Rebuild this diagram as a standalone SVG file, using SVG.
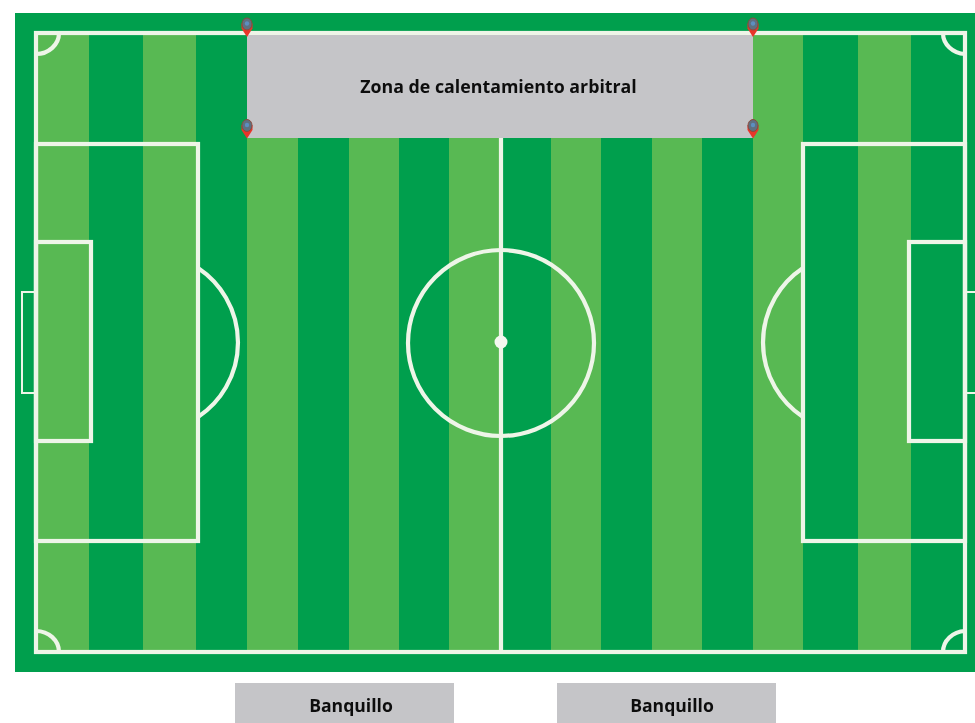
<svg xmlns="http://www.w3.org/2000/svg" width="975" height="723" viewBox="0 0 975 723">
<style>
.l{fill:#59b952}
.d{fill:#009f4d}
.w{fill:none;stroke:#eef5e8;stroke-width:4.2}
.t{fill:none;stroke:#eef5e8;stroke-width:2}
.g{fill:#c5c5c8}
.x{font-family:"Open Sans","Noto Sans",sans-serif;font-weight:700;fill:#111;text-anchor:middle}
.pin{fill:#e8352a}
.pc{fill:#5f6f80;stroke:#8a4a3c;stroke-width:1}
</style>
<defs>
<filter id="soft" filterUnits="userSpaceOnUse" x="0" y="0" width="975" height="723"><feGaussianBlur stdDeviation="0.7"/></filter>
<filter id="softer" filterUnits="userSpaceOnUse" x="0" y="0" width="975" height="723"><feGaussianBlur stdDeviation="0.3"/></filter>
<g id="marker"><path class="pin" d="M-5.5 -5L5.5 -5L5.5 0L0 8.5L-5.5 0Z"/><ellipse class="pc" cx="0" cy="-4.5" rx="5" ry="6"/><circle cx="0" cy="-5" r="2.2" fill="#5b8fc0"/></g>
</defs>
<rect width="975" height="723" fill="#fff"/>
<g id="field" filter="url(#soft)">
<rect class="d" x="15" y="13" width="965" height="659"/>
<rect class="l" x="36" y="33" width="53" height="619"/>
<rect class="l" x="143" y="33" width="53" height="619"/>
<rect class="l" x="247" y="33" width="51" height="619"/>
<rect class="l" x="349" y="33" width="50" height="619"/>
<rect class="l" x="449" y="33" width="51" height="619"/>
<rect class="l" x="551" y="33" width="50" height="619"/>
<rect class="l" x="652" y="33" width="50" height="619"/>
<rect class="l" x="753" y="33" width="50" height="619"/>
<rect class="l" x="858" y="33" width="53" height="619"/>
</g>
<g id="lines" filter="url(#soft)">
<rect class="w" x="36" y="33" width="929" height="619"/>
<path class="w" d="M501 138V652"/>
<circle class="w" cx="501" cy="343" r="93"/>
<circle cx="501" cy="342" r="6.5" fill="#f4f8f0"/>
<rect class="w" x="36" y="144" width="162" height="397"/>
<rect class="w" x="36" y="242" width="55" height="199"/>
<path class="t" d="M36 292H22V393H36"/>
<path class="w" d="M198 268A89.4 89.4 0 0 1 198 417"/>
<rect class="w" x="803" y="144" width="162" height="397"/>
<rect class="w" x="909" y="242" width="56" height="199"/>
<path class="t" d="M965 292H980M965 393H980"/>
<path class="w" d="M803 268A89.4 89.4 0 0 0 803 417"/>
<path class="w" d="M59 33A23 21 0 0 1 36 54"/>
<path class="w" d="M943 33A23 21 0 0 0 965 54"/>
<path class="w" d="M59 652A23 21 0 0 0 36 631"/>
<path class="w" d="M943 652A23 21 0 0 1 965 631"/>
</g>
<g id="zona-calentamiento">
<rect class="g" filter="url(#soft)" x="247" y="35" width="506" height="103"/>
<text class="x" filter="url(#softer)" x="498.5" y="93" font-size="17.8">Zona de calentamiento arbitral</text>
</g>
<g id="banquillo-1">
<rect class="g" filter="url(#soft)" x="235" y="683" width="219" height="45"/>
<text class="x" filter="url(#softer)" x="351" y="712" font-size="17.6">Banquillo</text>
</g>
<g id="banquillo-2">
<rect class="g" filter="url(#soft)" x="557" y="683" width="219" height="45"/>
<text class="x" filter="url(#softer)" x="672" y="712" font-size="17.6">Banquillo</text>
</g>
<g id="markers" filter="url(#soft)">
<use href="#marker" x="247" y="28.5"/>
<use href="#marker" x="753" y="28.5"/>
<use href="#marker" x="247" y="130"/>
<use href="#marker" x="753" y="130"/>
</g>
</svg>
